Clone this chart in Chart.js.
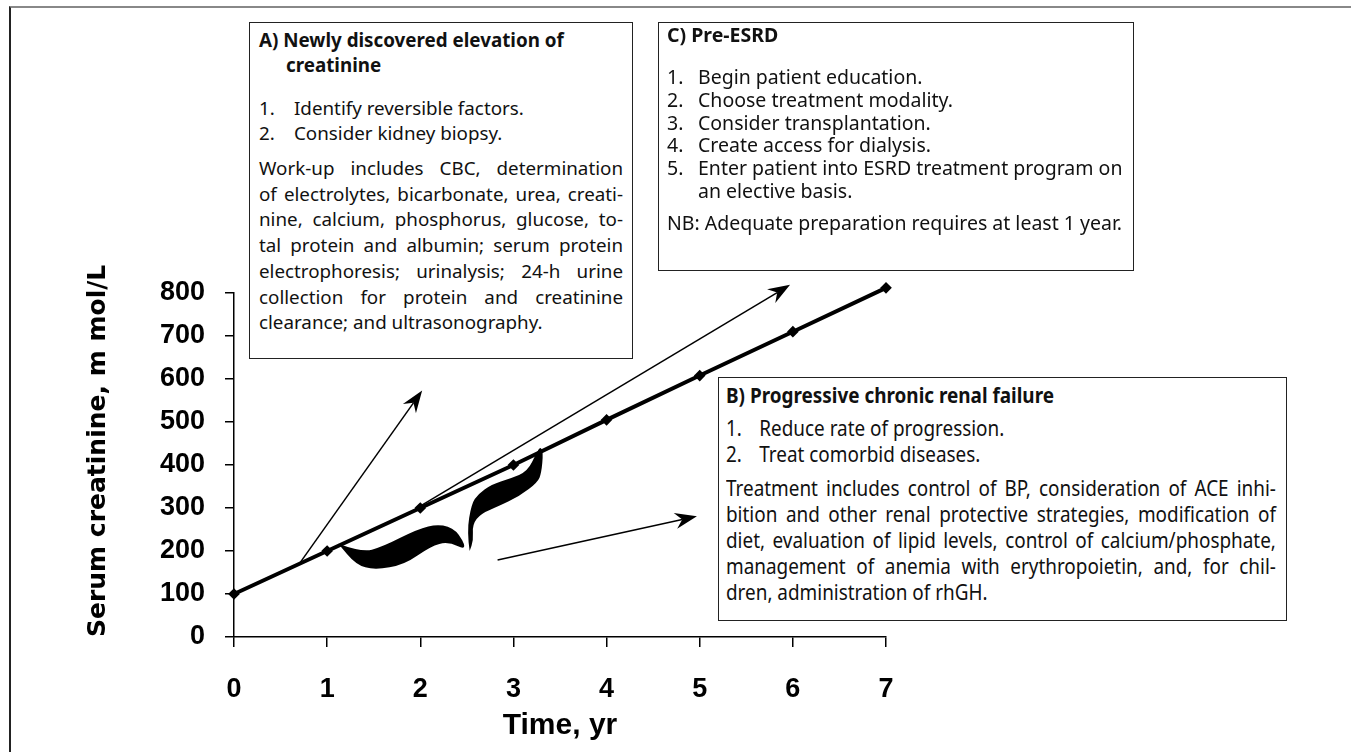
<!DOCTYPE html>
<html>
<head>
<meta charset="utf-8">
<script src="https://cdn.jsdelivr.net/npm/chart.js@4.4.1/dist/chart.umd.min.js"></script>
<style>
  html, body { margin: 0; padding: 0; background: #fff; }
  #wrap { position: relative; width: 1351px; height: 752px; overflow: hidden; }
  #frame { position: absolute; left: 9px; top: 6px; width: 1400px; height: 800px;
           border-left: 2px solid #222; border-top: 2px solid #888; }
  canvas { position: absolute; left: 0; top: 0; }
  .box { position: absolute; box-sizing: border-box; border: 1px solid #222; background: #fff;
         font-family: 'Noto Sans', 'Open Sans', sans-serif; color: #111; }
  .ttl { font-weight: bold; }
  .j { text-align: justify; text-align-last: justify; white-space: nowrap; }
  .item { display: flex; white-space: nowrap; }
  .item .n { flex: 0 0 auto; }
</style>
</head>
<body>
<div id="wrap">
  <div id="frame"></div>
  <canvas id="renalChart" width="1351" height="752"></canvas>

  <!-- A) box -->
  <div class="box" style="left:249px; top:22px; width:384px; height:337px; padding:5px 9px 0 9px; font-size:18.8px;">
    <div class="ttl" style="line-height:25px; padding-left:27px; text-indent:-27px;">A) Newly discovered elevation of creatinine</div>
    <div style="margin-top:18px; line-height:25px;">
      <div class="item"><span class="n" style="width:35px">1.</span><span>Identify reversible factors.</span></div>
      <div class="item"><span class="n" style="width:35px">2.</span><span>Consider kidney biopsy.</span></div>
    </div>
    <div style="margin-top:10px; line-height:25.7px;">
      <div class="j">Work-up includes CBC, determination</div>
      <div class="j">of electrolytes, bicarbonate, urea, creati-</div>
      <div class="j">nine, calcium, phosphorus, glucose, to-</div>
      <div class="j">tal protein and albumin; serum protein</div>
      <div class="j">electrophoresis; urinalysis; 24-h urine</div>
      <div class="j">collection for protein and creatinine</div>
      <div>clearance; and ultrasonography.</div>
    </div>
  </div>

  <!-- C) box -->
  <div class="box" style="left:658px; top:22px; width:476px; height:249px; padding:2px 8px 0 8px; font-size:19.5px;">
    <div class="ttl" style="line-height:20px;">C) Pre-ESRD</div>
    <div style="margin-top:21px; line-height:22.8px;">
      <div class="item"><span class="n" style="width:31px">1.</span><span>Begin patient education.</span></div>
      <div class="item"><span class="n" style="width:31px">2.</span><span>Choose treatment modality.</span></div>
      <div class="item"><span class="n" style="width:31px">3.</span><span>Consider transplantation.</span></div>
      <div class="item"><span class="n" style="width:31px">4.</span><span>Create access for dialysis.</span></div>
      <div class="item"><span class="n" style="width:31px">5.</span><span>Enter patient into ESRD treatment program on<br>an elective basis.</span></div>
    </div>
    <div style="margin-top:9px; line-height:22.8px; white-space:nowrap;">NB: Adequate preparation requires at least 1 year.</div>
  </div>

  <!-- B) box -->
  <div class="box" style="left:718px; top:377px; width:569px; height:244px; padding:4px 7px 0 7px;">
    <div style="transform:scaleX(0.9); transform-origin:0 0; width:611px; font-size:21px;">
      <div class="ttl" style="line-height:26px;">B) Progressive chronic renal failure</div>
      <div style="margin-top:7px; line-height:26px;">
        <div class="item"><span class="n" style="width:37px">1.</span><span>Reduce rate of progression.</span></div>
        <div class="item"><span class="n" style="width:37px">2.</span><span>Treat comorbid diseases.</span></div>
      </div>
      <div style="margin-top:8px; line-height:26px;">
        <div class="j">Treatment includes control of BP, consideration of ACE inhi-</div>
        <div class="j">bition and other renal protective strategies, modification of</div>
        <div class="j">diet, evaluation of lipid levels, control of calcium/phosphate,</div>
        <div class="j">management of anemia with erythropoietin, and, for chil-</div>
        <div>dren, administration of rhGH.</div>
      </div>
    </div>
  </div>
</div>

<script>
// ========== data ==========
const years = [0, 1, 2, 3, 4, 5, 6, 7];
const creatinine = [100, 200, 300, 400, 505, 608, 710, 812];
const xTickValues = [0, 1, 2, 3, 4, 5, 6, 7];
const yTickValues = [0, 100, 200, 300, 400, 500, 600, 700, 800];

const tickFamily = "'Liberation Sans Narrow', 'Liberation Sans', Arial, sans-serif";

// ========== arrows and the S-shaped brace (in data units) ==========
const decor = {
  id: 'decor',
  afterDatasetsDraw(chart) {
    const { ctx, scales: { x, y } } = chart;
    const P = (a, b) => [x.getPixelForValue(a), y.getPixelForValue(b)];

    function arrow(from, to) {
      const [x0, y0] = P(from[0], from[1]);
      const [x1, y1] = P(to[0], to[1]);
      const ang = Math.atan2(y1 - y0, x1 - x0);
      const len = 22, half = 8, notch = 15;
      ctx.save();
      ctx.strokeStyle = '#000';
      ctx.fillStyle = '#000';
      ctx.lineWidth = 1.5;
      ctx.beginPath();
      ctx.moveTo(x0, y0);
      ctx.lineTo(x1 - Math.cos(ang) * notch, y1 - Math.sin(ang) * notch);
      ctx.stroke();
      ctx.translate(x1, y1);
      ctx.rotate(ang);
      ctx.beginPath();
      ctx.moveTo(0, 0);
      ctx.lineTo(-len, -half);
      ctx.lineTo(-notch, 0);
      ctx.lineTo(-len, half);
      ctx.closePath();
      ctx.fill();
      ctx.restore();
    }

    function blob(pts) {
      const px = pts.map(p => P(p[0], p[1]));
      ctx.save();
      ctx.fillStyle = '#000';
      ctx.beginPath();
      ctx.moveTo(px[0][0], px[0][1]);
      for (let i = 1; i < px.length - 1; i++) {
        const mx = (px[i][0] + px[i + 1][0]) / 2;
        const my = (px[i][1] + px[i + 1][1]) / 2;
        ctx.quadraticCurveTo(px[i][0], px[i][1], mx, my);
      }
      ctx.lineTo(px[px.length - 1][0], px[px.length - 1][1]);
      ctx.closePath();
      ctx.fill();
      ctx.restore();
    }

    arrow([0.71, 173], [2.02, 573]);   // to box A
    arrow([1.95, 298], [5.97, 819]);   // to box C
    arrow([2.83, 179], [4.97, 281]);   // to box B

    // first lobe
    blob([[1.12, 217], [1.37, 197], [1.59, 209], [1.97, 251], [2.20, 263], [2.39, 250], [2.51, 200],
          [2.30, 222], [2.11, 211], [1.83, 168], [1.51, 156], [1.31, 168], [1.12, 217]]);
    // second lobe
    blob([[2.53, 200], [2.50, 245], [2.55, 310], [2.62, 332], [2.76, 354], [2.97, 369], [3.15, 385],
          [3.25, 429], [3.29, 443], [3.32, 429], [3.30, 381], [3.26, 360], [3.07, 328], [2.83, 303],
          [2.65, 287], [2.56, 262], [2.57, 225], [2.53, 200]]);
  }
};

// ========== chart ==========
const ctx = document.getElementById('renalChart').getContext('2d');
const renalChart = new Chart(ctx, {
  type: 'line',
  data: {
    datasets: [{
      data: years.map((t, i) => ({ x: t, y: creatinine[i] })),
      borderColor: '#000',
      backgroundColor: '#000',
      borderWidth: 4,
      pointStyle: 'rectRot',
      pointRadius: 3,
      tension: 0,
      clip: false
    }]
  },
  options: {
    responsive: false,
    animation: false,
    layout: { padding: { left: 79, top: 293, right: 465, bottom: 4 } },
    plugins: { legend: { display: false }, tooltip: { enabled: false } },
    scales: {
      x: {
        type: 'linear', min: 0, max: 7,
        afterBuildTicks: s => { s.ticks = xTickValues.map(v => ({ value: v })); },
        afterFit: s => { s.height = 752 - 4 - 637; },
        grid: { drawOnChartArea: false, drawTicks: true, tickLength: 10, color: '#000', lineWidth: 1.5 },
        border: { color: '#000', width: 1.5 },
        ticks: { color: '#000', font: { family: tickFamily, weight: 'bold', size: 27 }, padding: 26, maxRotation: 0 },
        title: { display: true, text: 'Time, yr', color: '#000',
                 font: { family: tickFamily, weight: 'bold', size: 30 } }
      },
      y: {
        min: 0, max: 800,
        afterBuildTicks: s => { s.ticks = yTickValues.map(v => ({ value: v })); },
        afterFit: s => { s.width = 234 - 79; },
        grid: { drawOnChartArea: false, drawTicks: true, tickLength: 9, color: '#000', lineWidth: 1.5 },
        border: { color: '#000', width: 1.5 },
        ticks: { color: '#000', font: { family: "'Liberation Sans', Arial, sans-serif", weight: 'bold', size: 27 }, padding: 20 },
        title: { display: true, align: 'start', text: 'Serum creatinine, m mol/L', color: '#000',
                 font: { family: "'DejaVu Sans', sans-serif", weight: 'bold', size: 25 } }
      }
    }
  },
  plugins: [decor]
});
</script>
</body>
</html>
